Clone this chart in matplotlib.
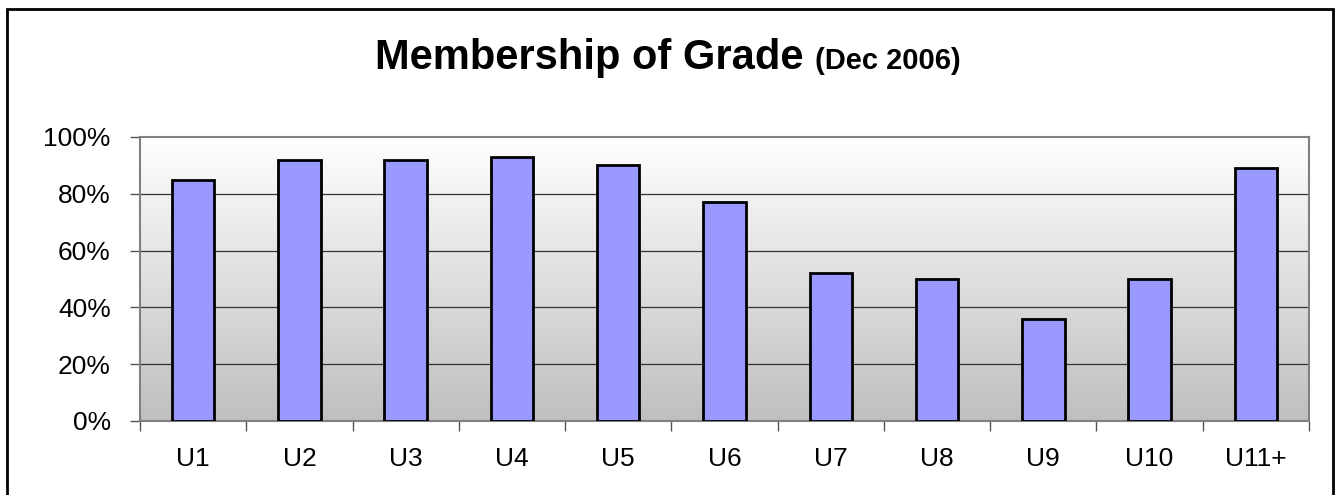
import numpy as np
import matplotlib
matplotlib.use("Agg")
import matplotlib.pyplot as plt
from matplotlib.patches import Rectangle
from matplotlib.ticker import FuncFormatter

plt.rcParams['font.family'] = ['Liberation Sans', 'DejaVu Sans']

# Data
grades = ['U1', 'U2', 'U3', 'U4', 'U5', 'U6', 'U7', 'U8', 'U9', 'U10', 'U11+']
membership = [85, 92, 92, 93, 90, 77, 52, 50, 36, 50, 89]  # percent

fig = plt.figure(figsize=(13.4, 4.95), dpi=100)
ax = fig.add_axes([140/1340, 1 - 421/495, (1309 - 140)/1340, (421 - 137)/495])

x = np.arange(len(grades))
ax.set_xlim(-0.5, len(grades) - 0.5)
ax.set_ylim(0, 100)

# gradient background: white at top to grey at bottom
grad = np.linspace(0, 1, 256).reshape(-1, 1)
cols = np.ones((256, 1, 3)) * (1 - grad * (1 - 0.75))[:, :, None]
ax.imshow(cols[::-1], extent=(-0.5, len(grades) - 0.5, 0, 100), aspect='auto',
          origin='lower', zorder=0)

for yv in [20, 40, 60, 80]:
    ax.axhline(yv, color='#333333', lw=0.9, zorder=1)

ax.bar(x, membership, width=0.4, color='#9999ff', edgecolor='black', linewidth=2, zorder=3)

for s in ax.spines.values():
    s.set_color('#808080')
    s.set_linewidth(1.5)

ax.set_yticks([0, 20, 40, 60, 80, 100])
ax.yaxis.set_major_formatter(FuncFormatter(lambda v, p: f"{int(v)}%"))
ax.tick_params(axis='y', length=7, width=1, color='#555555', labelsize=19, pad=14)

ax.set_xticks(x)
ax.set_xticklabels(grades)
ax.set_xticks(np.arange(-0.5, len(grades)), minor=True)
ax.tick_params(axis='x', which='major', length=0, labelsize=19, pad=19)
ax.tick_params(axis='x', which='minor', length=7, width=1, color='#555555')

# Title in two sizes, centred together
t1 = fig.text(0, 1 - 69/495, 'Membership of Grade', fontsize=30, fontweight='bold', va='baseline', ha='left')
t2 = fig.text(0, 1 - 69/495, '(Dec 2006)', fontsize=21, fontweight='bold', va='baseline', ha='left')
fig.canvas.draw()
r = fig.canvas.get_renderer()
w1 = t1.get_window_extent(r).width
w2 = t2.get_window_extent(r).width
gap = 12
start = 668 - (w1 + gap + w2) / 2
t1.set_x(start / 1340)
t2.set_x((start + w1 + gap) / 1340)

# outer border (bottom edge runs off the image)
fig.patches.append(Rectangle((7/1340, -0.02), 1326/1340, (495 - 9)/495 + 0.02,
                             transform=fig.transFigure, fill=False,
                             edgecolor='black', linewidth=2))

fig.savefig('out.png', dpi=100)
